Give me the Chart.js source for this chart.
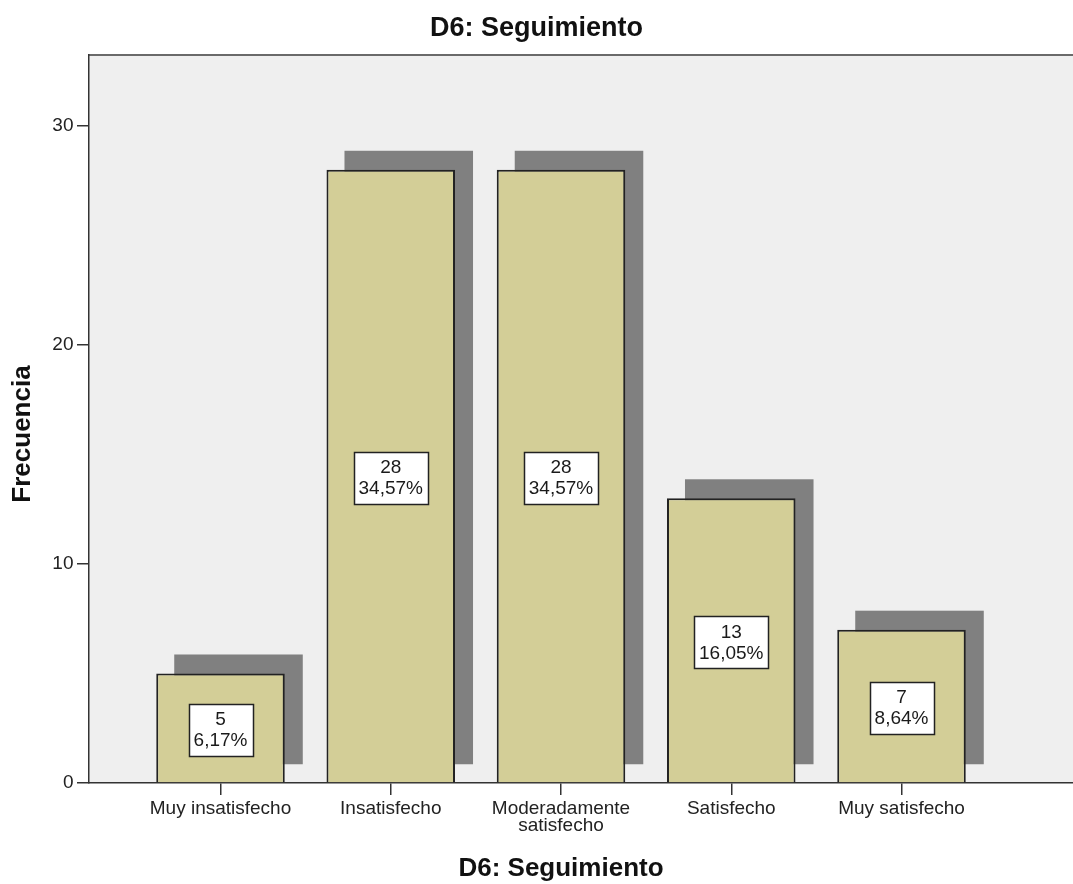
<!DOCTYPE html>
<html>
<head>
<meta charset="utf-8">
<script src="https://cdn.jsdelivr.net/npm/chart.js@4/dist/chart.umd.min.js"></script>
<style>
  html, body { margin: 0; padding: 0; background: #fff; }
  #wrap { width: 1073px; height: 884px; position: relative; }
</style>
</head>
<body>
<div id="wrap"><canvas id="chart"></canvas></div>
<script>
// ── Data ──
const categories = ['Muy insatisfecho', 'Insatisfecho', 'Moderadamente satisfecho', 'Satisfecho', 'Muy satisfecho'];
const xTickLabels = ['Muy insatisfecho', 'Insatisfecho', ['Moderadamente', 'satisfecho'], 'Satisfecho', 'Muy satisfecho'];
const counts = [5, 28, 28, 13, 7];
const percents = ['6,17%', '34,57%', '34,57%', '16,05%', '8,64%'];
const yTicks = [0, 10, 20, 30];

const FONT = "'Liberation Sans', Arial, sans-serif";

// ── Plot background + top frame ──
const frame = {
  id: 'frame',
  beforeDraw(chart) {
    const { ctx, chartArea: a } = chart;
    ctx.save();
    ctx.fillStyle = '#efefef';
    ctx.fillRect(a.left, a.top, a.right - a.left, a.bottom - a.top);
    ctx.strokeStyle = '#6a6a6a';
    ctx.lineWidth = 2;
    ctx.beginPath();
    ctx.moveTo(a.left, a.top);
    ctx.lineTo(a.right, a.top);
    ctx.stroke();
    ctx.restore();
  }
};

// ── Drop shadow behind each bar ──
const shadows = {
  id: 'shadows',
  beforeDatasetsDraw(chart) {
    const { ctx } = chart;
    const meta = chart.getDatasetMeta(0);
    ctx.save();
    ctx.fillStyle = '#808080';
    meta.data.forEach(bar => {
      const w = bar.width;
      ctx.fillRect(bar.x - w / 2 + 18, bar.y - 19, w, bar.base - bar.y + 1);
    });
    ctx.restore();
  }
};

// ── Count / percent boxes ──
const valueBoxes = {
  id: 'valueBoxes',
  afterDatasetsDraw(chart) {
    const { ctx } = chart;
    const meta = chart.getDatasetMeta(0);
    ctx.save();
    ctx.font = `19px ${FONT}`;
    ctx.textAlign = 'center';
    ctx.textBaseline = 'middle';
    meta.data.forEach((bar, i) => {
      const lines = [String(counts[i]), percents[i]];
      const tw = Math.max(...lines.map(t => ctx.measureText(t).width));
      const bw = Math.round(tw + 10), bh = 52;
      const cy = (bar.y + bar.base) / 2 + 2;
      const bx = Math.round(bar.x - bw / 2) + 0.5, by = Math.round(cy - bh / 2) + 0.5;
      ctx.fillStyle = '#fff';
      ctx.fillRect(bx, by, bw, bh);
      ctx.strokeStyle = '#222';
      ctx.lineWidth = 1.5;
      ctx.strokeRect(bx, by, bw, bh);
      ctx.fillStyle = '#1a1a1a';
      ctx.fillText(lines[0], bar.x, cy - 10);
      ctx.fillText(lines[1], bar.x, cy + 11);
    });
    ctx.restore();
  }
};

// ── Axis titles, placed where the original has them ──
const axisTitles = {
  id: 'axisTitles',
  afterDraw(chart) {
    const { ctx } = chart;
    ctx.save();
    ctx.font = `bold 26px ${FONT}`;
    ctx.fillStyle = '#111';
    ctx.textAlign = 'center';
    ctx.textBaseline = 'middle';
    ctx.fillText('D6: Seguimiento', 561, 869);
    ctx.translate(23, 434);
    ctx.rotate(-Math.PI / 2);
    ctx.fillText('Frecuencia', 0, 0);
    ctx.restore();
  }
};

new Chart(document.getElementById('chart'), {
  type: 'bar',
  data: {
    datasets: [{
      data: counts.map((c, i) => ({ x: i, y: c })),
      backgroundColor: '#d3ce97',
      borderColor: '#222',
      borderWidth: 2,
      barPercentage: 0.755,
      categoryPercentage: 1,
    }],
  },
  options: {
    responsive: true, maintainAspectRatio: false, animation: false,
    layout: { padding: { left: 0, right: 0, top: 0, bottom: 0 } },
    plugins: {
      legend: { display: false },
      tooltip: { enabled: false },
      title: {
        display: true, text: 'D6: Seguimiento', color: '#111',
        font: { family: FONT, size: 27, weight: 'bold' },
        padding: { top: 12, bottom: 10.6 },
      },
    },
    scales: {
      x: {
        type: 'linear', min: -0.7724, max: 5.0073, offset: false,
        afterBuildTicks: s => { s.ticks = categories.map((_, i) => ({ value: i })); },
        afterFit: s => { s.height = 101; },
        grid: { offset: false, drawOnChartArea: false, drawTicks: true, tickLength: 12, color: '#333', lineWidth: 1.5 },
        border: { display: true, color: '#333', width: 1.5 },
        ticks: {
          autoSkip: false, maxRotation: 0, padding: 5, color: '#222',
          font: { family: FONT, size: 19, lineHeight: 0.9 },
          callback: v => xTickLabels[v],
        },
      },
      y: {
        min: 0, max: 33.24,
        afterBuildTicks: s => { s.ticks = yTicks.map(v => ({ value: v })); },
        afterFit: s => { s.width = 89; },
        grid: { drawOnChartArea: false, drawTicks: true, tickLength: 12, color: '#333', lineWidth: 1.5 },
        border: { display: true, color: '#333', width: 1.5 },
        ticks: {
          padding: 3.5, color: '#222',
          font: { family: FONT, size: 19 },
        },
      },
    },
  },
  plugins: [frame, shadows, valueBoxes, axisTitles],
});
</script>
</body>
</html>
